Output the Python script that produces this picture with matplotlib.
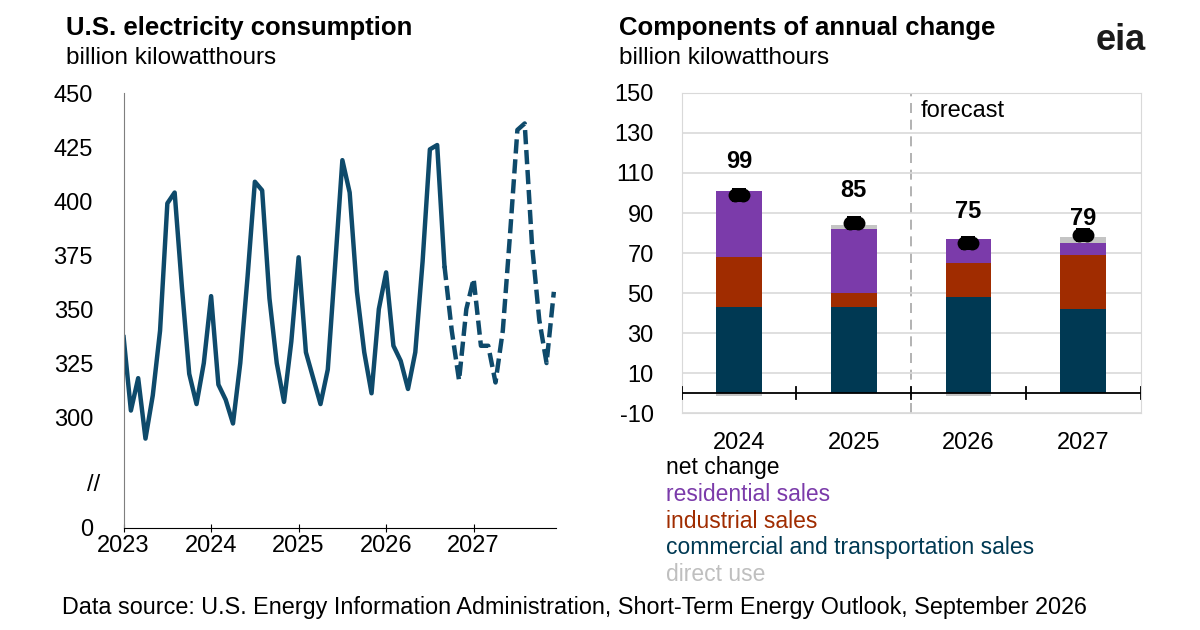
import matplotlib
matplotlib.use("Agg")
import matplotlib.pyplot as plt
import numpy as np

plt.rcParams['font.family'] = ['Liberation Sans', 'DejaVu Sans']
plt.rcParams['axes.unicode_minus'] = False

# monthly consumption 2023-01 .. 2027-12
consumption = [337,303,318,290,310,340,399,404,360,320,306,325,
               356,315,308,297,325,365,409,405,355,325,307,335,
               374,330,318,306,322,370,419,404,358,330,311,350,
               367,333,326,313,330,372,424,426,370,340,317,350,
               364,333,333,316,340,385,433,436,380,345,325,358]
hist_end = 44  # index of Aug 2026 (last historical)
year_ticks = ['2023', '2024', '2025', '2026', '2027']

years = ['2024', '2025', '2026', '2027']
commercial = [43, 43, 48, 42]
industrial = [25, 7, 17, 27]
residential = [33, 32, 12, 6]
direct_use = [-1.5, 2, -1.5, 3]
net_change = [99, 85, 75, 79]

navy = '#003953'
purple = '#7B3BAA'
red = '#A02C00'
gray = '#C4C4C4'
line_c = '#0E4A6B'

FS = 17

fig = plt.figure(figsize=(12, 6.3), dpi=100)

# ---- left chart
ax = fig.add_axes([0.103, 0.162, 0.36, 0.690])
x = np.arange(len(consumption)) / 12.0 + 2023
ax.plot(x[:hist_end+1], consumption[:hist_end+1], color=line_c, lw=3.2, solid_joinstyle='round')
ax.plot(x[hist_end:], consumption[hist_end:], color=line_c, lw=3.2, ls=(0, (3.2, 1.3)))
ybot = 300 - (528-417)/54*25
ax.set_ylim(ybot, 450)
ax.set_xlim(2023, 2023 + 59/12 + 0.02)
ax.set_yticks([ybot, 300, 325, 350, 375, 400, 425, 450])
ax.set_yticklabels(['0', '300', '325', '350', '375', '400', '425', '450'])
ax.set_xticks([2023, 2024, 2025, 2026, 2027])
ax.set_xticklabels(year_ticks)
ax.text(-0.055, 268.5, '//', transform=ax.get_yaxis_transform(), ha='right', va='center', fontsize=FS)
for s in ['top', 'right']:
    ax.spines[s].set_visible(False)
ax.spines['left'].set_color('#7f7f7f')
ax.spines['bottom'].set_color('black')
ax.tick_params(axis='y', length=0, labelsize=FS, pad=22)
ax.tick_params(axis='x', length=6, direction='inout', labelsize=FS, pad=2)

fig.text(0.055, 0.955, 'U.S. electricity consumption', fontsize=18.5, fontweight='bold', va='center')
fig.text(0.055, 0.908, 'billion kilowatthours', fontsize=17.5, va='center')

# ---- right chart
bx = fig.add_axes([0.568, 0.3444, 0.3825, 0.508])
pos = np.arange(len(years))
w = 0.4
bx.bar(pos, commercial, w, color=navy, zorder=3)
bx.bar(pos, industrial, w, bottom=commercial, color=red, zorder=3)
top2 = np.array(commercial) + np.array(industrial)
bx.bar(pos, residential, w, bottom=top2, color=purple, zorder=3)
top3 = top2 + np.array(residential)
du_bottom = [t if d > 0 else 0 for t, d in zip(top3, direct_use)]
bx.bar(pos, direct_use, w, bottom=du_bottom, color=gray, zorder=2)
for dx in (-0.035, 0.035):
    bx.plot(pos + dx, net_change, ls='none', marker='o', ms=10, color='black', zorder=5,
            markeredgewidth=0)
bx.plot(pos, net_change, ls='none', marker='s', ms=9.5, color='black', zorder=5, markeredgewidth=0)
label_off = [16.5, 16.5, 16, 8.5]
for p, v, o in zip(pos, net_change, label_off):
    bx.text(p, v + o, str(v), ha='center', va='center', fontsize=FS, fontweight='bold')
bx.set_ylim(-10, 150)
bx.set_xlim(-0.5, 3.5)
bx.set_yticks(np.arange(-10, 151, 20))
bx.set_xticks(pos)
bx.set_xticklabels(years)
bx.grid(axis='y', color='#d9d9d9', lw=1.2, zorder=0)
for s in bx.spines.values():
    s.set_color('#d9d9d9')
bx.axhline(0, color='black', lw=1.3, zorder=4)
for b in np.arange(-0.5, 3.6, 1):
    bx.plot([b, b], [-3, 3], color='black', lw=1.3, zorder=4)
bx.axvline(1.5, color='#a6a6a6', lw=1.2, ls=(0, (6, 4)), zorder=1)
bx.text(1.58, 141, 'forecast', fontsize=FS, va='center')
bx.tick_params(axis='y', length=0, labelsize=FS, pad=20)
bx.tick_params(axis='x', length=0, labelsize=FS, pad=14)

fig.text(0.516, 0.955, 'Components of annual change', fontsize=18.5, fontweight='bold', va='center')
fig.text(0.516, 0.908, 'billion kilowatthours', fontsize=17.5, va='center')

# legend as colored text
leg = [('net change', 'black'), ('residential sales', purple), ('industrial sales', red),
       ('commercial and transportation sales', navy), ('direct use', '#bfbfbf')]
for i, (t, c) in enumerate(leg):
    fig.text(0.555, 0.258 - i*0.0425, t, color=c, fontsize=16.5, va='center')

fig.text(0.913, 0.935, 'eia', fontsize=26, fontweight='bold', color='#1a1a1a', va='center')
fig.text(0.052, 0.035, 'Data source: U.S. Energy Information Administration, Short-Term Energy Outlook, September 2026',
         fontsize=16.8, va='center')

fig.savefig('out.png', dpi=100)
